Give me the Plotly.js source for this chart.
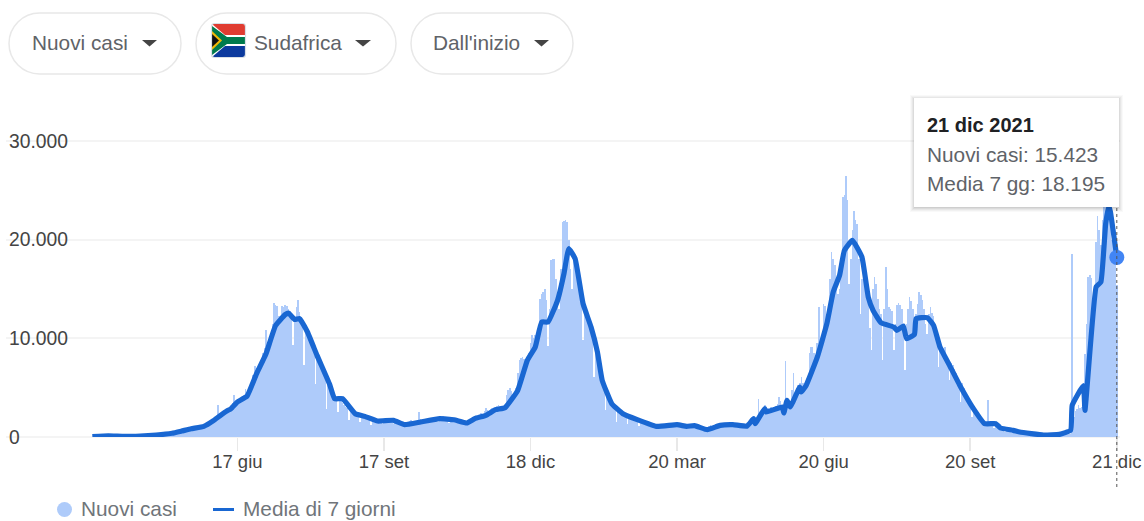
<!DOCTYPE html>
<html><head><meta charset="utf-8">
<script src="https://cdn.plot.ly/plotly-3.0.1.min.js"></script>
<style>html,body{margin:0;padding:0;background:#fff;overflow:hidden}</style>
</head><body><div id="chart" style="width:1144px;height:521px"></div>
<script>
const firstDay = '2020-03-18';
const xTickDates = ['2020-06-17','2020-09-17','2020-12-18','2021-03-20','2021-06-20','2021-09-20','2021-12-21'];
const xTickLabels = ['17 giu','17 set','18 dic','20 mar','20 giu','20 set','21 dic'];
const yTicks = [0,10000,20000,30000];

const casesStart = [
20,40,30,60,80,90,100,130,150,120,90,110,130,100,
70,60,50,60,80,70,60,70,90,80,100,90,110,100,
120,130,90,110,140,160,130,170,200,150,190,210,240,200,
250,300,260,340,380,320,400,430,380,420,500,560,480,600,
650,780,700,820,900,760,1000,1050,900,1100,1150,1000,1250,1200];
const casesWave1 = [
1300,1200,1400,1500,1400,1600,1700,
1750,2100,3200,2300,2400,2300,2500,
2700,2800,2700,3000,3400,4220,3400,
3800,3700,3700,4100,4300,4900,4300,
4500,5000,5800,6300,7160,7000,6400,
7000,7700,8500,9000,10800,9500,9200,
10000,11500,13575,13400,13300,12300,11800,
13300,13200,13340,13300,13000,12800,12500,
9300,12000,13200,13850,12700,12200,11500,
7260,11000,10500,10400,10000,9600,8900,
5400,8500,8200,7800,6800,6300,6000,
2870,5300,5000,4600,4300,3900,3800,
2530,3900,3600,3400,3200,3000,2900,
1690,2600,2500,2450,2400,2300,2200,
1500,2200,2100,2000,2000,1900,1800,
1250,1750,1700,1800,1700,1650,1600,
1300,1700,1800,1850,1850,1800,1650,
1350,1700,1600,1500,1400,1300,1250,
1050,1400,1500,1600,1700,1600,1550];
const casesWave2 = [
1250,1700,2530,1800,1700,1700,1600,
1450,1700,1800,1900,1850,1800,1800,
1550,1850,1900,2150,1900,1800,1750,
1450,2000,1850,1750,1700,1600,1600,
1300,1650,1700,1500,1400,1600,1700,
1500,2000,2150,2100,2000,2200,2450,
2050,2650,2900,2700,2600,2800,2900,
2600,3000,3100,3200,3100,3000,3050,
2900,4300,4800,5000,4700,4300,4500,
5000,6500,7800,8000,8100,7900,7800,
8000,8500,9500,10300,10000,10300,9300,
10500,14000,14500,14700,15000,13900,9200,
13000,17900,18000,18000,16000,14000,13000,
17000,21800,21900,22000,21800,20000,17000,
15000,18500,18000,17000,16000,15000,14500,
9800,13500,12500,12200,12000,11300,10500,
6080,9000,8300,7500,6800,6000,5300,
2700,4800,4200,3800,3400,3100,2900,
1500,2700,2500,2400,2300,2100,2000,
1300,2000,1900,1850,1800,1700,1700,
1150,1500,1400,1350,1300,1250,1200,
1000,1200,1150,1100,1100,1200,1250,
1000,1200,1250,1300,1250,1300,1250,
1050,1300,1350,1300,1250,1300,1200,
1000,1250,1200,1150,1200,1250,1200,
900,1200,1100,1050,900,850,800,
700,1000,1100,1200,1150,1250,1300,
1050,1300,1200,1250,1200,1250,1200];
const casesWave3 = [
1250,1150,1200,1100,1200,1100,1100,
950,1150,1200,1050,1100,1200,1400,
1300,1900,2000,1800,1700,3880,2200,
2000,2700,3200,2700,2900,2800,3000,
2500,3000,3100,3300,4100,3600,3000,
3200,7660,4000,3500,3600,4800,6480,
4500,5000,5300,5500,6080,5500,4800,
5200,6000,8500,9120,9100,8500,8000,
9500,13170,9500,9800,13500,13300,12000,
13500,16000,18700,18000,17400,15000,14500,
15000,16800,24300,24500,26440,24000,15500,
18000,21000,22900,22000,21600,18000,12500,
16000,17000,16500,15000,14500,11000,8800,
15000,16200,15500,14000,13000,12500,7770,
13000,17200,15000,13170,13000,12800,8780,
11500,13400,13580,13400,13000,11000,6750,
11500,13000,14180,13800,13000,10500,12500,
13500,14690,14400,13900,13000,11500,10470,
12500,13170,12600,12300,11000,10500,7090,
9500,9300,9000,9120,8000,7500,5740,
7500,7300,6900,6500,6200,5800,3500,
5500,5000,4600,4200,3900,3400,2000,
3100,2900,2600,2300,2000,1800,1200,
1500,1450,3710,1400,1300,1350,900,
1520,1200,1000,900,850,800,500,
750,700,650,600,550,550,350,
500,480,450,400,350,350,200,
330,300,280,270,250,240,130,
240,220,210,200,220,210,130,
230,250,260,280,300,310,180];
const casesWave4 = [
310,330,350,300,280,320,18586,
2000,2600,2800,3200,2900,3000,4400,
8400,11500,16200,16400,16100,11500,14000,
19800,22400,21000,19500,22000,24000,24500,
26000,24000,22000,20000,19000,17500,15423];

const avgDays = [0,10,20,30,40,50,56,62,70,76,78,84,87,91,97,103,109,115,121,123,127,130,135,141,149,152,157,165,171,179,189,196,
206,218,227,235,240,247,253,259,267,273,278,282,286,292,296,299,303,308,313,317,320,326,333,342,354,367,373,378,386,394,
402,411,415,416,422,423,433,434,436,438,444,445,448,455,461,465,469,472,477,483,487,490,495,503,505,509,511,516,517,524,528,532,538,545,553,560,567,570,578,
582,597,607,614,615,622,623,630,633,636,638,639,643];
const avgValues = [30,120,60,100,200,380,600,840,1080,1650,1900,2600,2870,3550,4120,6400,8440,11300,12400,12560,11900,12000,10640,8270,5300,3880,3880,2360,2090,1620,1690,1250,
1520,1860,1750,1420,1860,2200,2770,2970,4730,7770,9120,11650,11650,13850,16550,19080,18070,13500,11140,8610,5740,3380,2360,1760,1080,1250,1080,1150,740,1180,
1250,1110,1860,1350,2870,2530,3040,2430,3710,3040,5060,4560,5230,8100,11480,14690,16380,18900,19920,18240,14180,12830,11580,11140,10800,11250,9960,10400,11990,12090,11310,9120,7260,5065,2870,1350,1350,910,675,
510,200,270,680,3210,5200,2700,15200,15700,21600,23400,22800,18195];
const selectedDay = '2021-12-21';
const selectedAvg = 18195;

const cases = [].concat(casesStart, casesWave1, casesWave2, casesWave3, casesWave4);
const dayMs = 86400000, t0 = Date.parse(firstDay + 'T00:00:00Z');
const dateOf = d => new Date(t0 + d * dayMs).toISOString().slice(0, 10);

const W = 1144, H = 521, L = 6, R = 1120, T = 101, B = 437;
const px = x => (x - L) / (R - L);
const py = y => (B - y) / (B - T);
const GREY = '#5f6368';

function pillPath(x0, x1, y0, y1, r) {
  const s = 0.55 * r;
  const p = (x, y) => px(x) + ',' + py(y);
  return 'M' + p(x0 + r, y0) + ' L' + p(x1 - r, y0) +
    ' C' + p(x1 - r + s, y0) + ' ' + p(x1, y0 + r - s) + ' ' + p(x1, y0 + r) +
    ' L' + p(x1, y1 - r) +
    ' C' + p(x1, y1 - r + s) + ' ' + p(x1 - r + s, y1) + ' ' + p(x1 - r, y1) +
    ' L' + p(x0 + r, y1) +
    ' C' + p(x0 + r - s, y1) + ' ' + p(x0, y1 - r + s) + ' ' + p(x0, y1 - r) +
    ' L' + p(x0, y0 + r) +
    ' C' + p(x0, y0 + r - s) + ' ' + p(x0 + r - s, y0) + ' ' + p(x0 + r, y0) + ' Z';
}
function poly(pts, color) {
  const d = pts.map((q, i) => (i ? 'L' : 'M') + px(q[0]) + ',' + py(q[1])).join(' ') + ' Z';
  return {type:'path', xref:'paper', yref:'paper', path:d, fillcolor:color, line:{width:0}, layer:'above'};
}
function rect(x0, x1, y0, y1, fill, layer) {
  return {type:'rect', xref:'paper', yref:'paper', x0:px(x0), x1:px(x1), y0:py(y1), y1:py(y0),
    fillcolor:fill, line:{width:0}, layer:layer || 'above'};
}
function label(text, x, y, size, color, bold) {
  return {xref:'paper', yref:'paper', x:px(x), y:py(y), xanchor:'left', yanchor:'middle', showarrow:false,
    borderpad:0, text: bold ? '<b>' + text + '</b>' : text,
    font:{family:'"Liberation Sans", Arial, sans-serif', size:size, color:color}};
}

const shapes = [], annotations = [];

// masks behind the y tick labels
yTicks.forEach(t => shapes.push({type:'rect', xref:'paper', yref:'y', x0:px(0), x1:px(t === 0 ? 22 : 70),
  y0:t-300, y1:t+300, fillcolor:'#fff', line:{width:0}, layer:'between'}));

// selector pills
[[9,181,157,142,'Nuovi casi',31],[196,396,371,355,'Sudafrica',253],[411,573,549,534,"Dall'inizio",432]].forEach(p => {
  shapes.push({type:'path', xref:'paper', yref:'paper', path:pillPath(p[0],p[1],13,74,30.5), fillcolor:'#fff',
    line:{color:'#e8e8e8', width:1.5}, layer:'above'});
  shapes.push(poly([[p[3],40],[p[2],40],[(p[2]+p[3])/2,46.5]], '#444'));
  annotations.push(label(p[4], p[5], 43, 20.8, GREY));
});

// flag
shapes.push(rect(212,245,24,57,'#ffffff'));
shapes.push(poly([[212,24],[245,24],[245,35],[225,35]], '#e03c31'));
shapes.push(poly([[212,57],[245,57],[245,46],[225,46]], '#0c3a9e'));
shapes.push(poly([[212,26],[227,37],[245,37],[245,44],[227,44],[212,55]], '#007a4d'));
shapes.push(poly([[212,31],[222,40.5],[212,50]], '#f2b705'));
shapes.push(poly([[212,34],[219,40.5],[212,47]], '#111111'));
shapes.push({type:'path', xref:'paper', yref:'paper', path:pillPath(211.5,245.5,23.5,57.5,3), line:{color:'#d9dfe6', width:1.2}, layer:'above'});

// tooltip
[[5,.025],[4,.03],[3,.04],[2,.05],[1,.06]].forEach(s =>
  shapes.push(rect(914-s[0]+1,1119+s[0]-1,98-s[0]+2,207+s[0],'rgba(0,0,0,'+s[1]+')')));
shapes.push(rect(914,1119,98,207,'#ffffff'));
annotations.push(label('21 dic 2021', 926, 125, 20, '#202124', true));
annotations.push(label('Nuovi casi: 15.423', 926, 154.5, 20.8, GREY));
annotations.push(label('Media 7 gg: 18.195', 926, 183.5, 20.8, GREY));

// selected-day guide
shapes.push({type:'line', xref:'x', yref:'paper', x0:selectedDay, x1:selectedDay, y0:py(487), y1:py(207),
  line:{color:'#555', width:1, dash:'dot'}, layer:'above'});

// legend
shapes.push({type:'circle', xref:'paper', yref:'paper', x0:px(57), x1:px(72), y0:py(517), y1:py(502), fillcolor:'#aecbfa', line:{width:0}, layer:'above'});
shapes.push({type:'line', xref:'paper', yref:'paper', x0:px(213), x1:px(234), y0:py(509.5), y1:py(509.5), line:{color:'#1967d2', width:3}, layer:'above'});
annotations.push(label('Nuovi casi', 80, 508.5, 20.8, '#70757a'));
annotations.push(label('Media di 7 giorni', 242, 508.5, 20.8, '#70757a'));

const traces = [
  {type:'bar', x:cases.map((_, i) => dateOf(i)), y:cases, marker:{color:'#aecbfa', line:{width:0}}, hoverinfo:'skip'},
  {type:'scatter', mode:'lines', x:avgDays.map(dateOf), y:avgValues, line:{color:'#1967d2', width:5.2, shape:'spline', smoothing:0.35}, hoverinfo:'skip'},
  {type:'scatter', mode:'markers', x:[selectedDay], y:[selectedAvg], marker:{color:'#4285f4', size:15}, hoverinfo:'skip', cliponaxis:false}
];

const layout = {
  width:W, height:H, showlegend:false, hovermode:false, bargap:0,
  paper_bgcolor:'#fff', plot_bgcolor:'#fff', separators:',.',
  margin:{l:L, r:W-R, t:T, b:H-B, pad:0},
  font:{family:'"Liberation Sans", Arial, sans-serif', color:'#444'},
  xaxis:{type:'date', range:['2020-01-23 19:00','2021-12-23'], tickmode:'array', tickvals:xTickDates, ticktext:xTickLabels,
    ticks:'outside', ticklen:13, tickwidth:1.5, tickcolor:'#e8e8e8', showgrid:false, zeroline:false, showline:false,
    ticklabelstandoff:-5, tickfont:{size:18.5, color:'#444'}},
  yaxis:{range:[0,(B-T)/0.00987], tickmode:'array', tickvals:yTicks, tickformat:',d', ticks:'',
    ticklabelposition:'inside', ticklabeloverflow:'allow', showgrid:true, gridcolor:'#f4f4f4', gridwidth:2,
    zeroline:true, zerolinecolor:'#f4f4f4', zerolinewidth:2, showline:false, tickfont:{size:19.3, color:'#444'}},
  shapes:shapes, annotations:annotations
};
Plotly.newPlot('chart', traces, layout, {displayModeBar:false, staticPlot:true});
</script></body></html>
